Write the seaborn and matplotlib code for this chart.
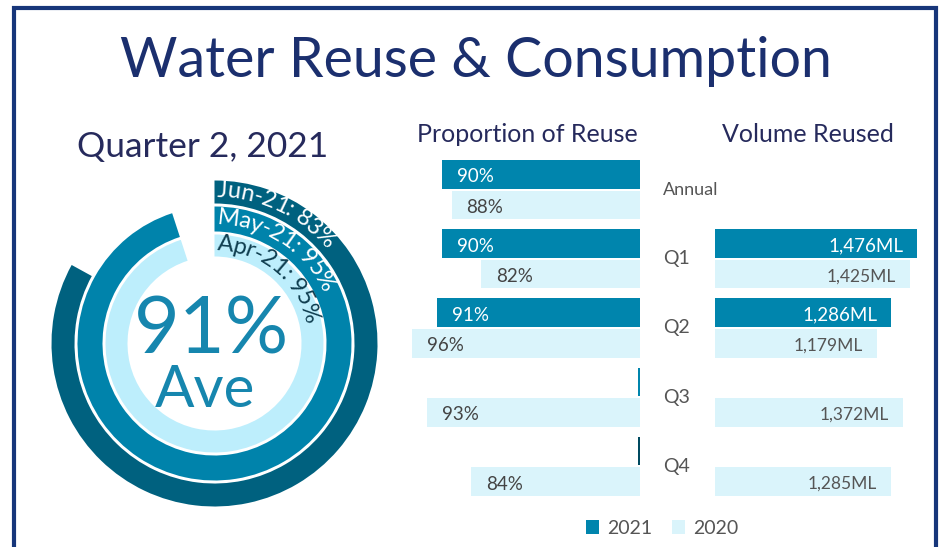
import numpy as np
import pandas as pd
import matplotlib
matplotlib.use("Agg")
import matplotlib.pyplot as plt
import matplotlib.transforms as mtransforms
from matplotlib.patches import Rectangle
from matplotlib.font_manager import FontProperties
import seaborn as sns

# ---------------- data ----------------
categories = ["Annual", "Q1", "Q2", "Q3", "Q4"]
years = ["2021", "2020"]
reuse_2021 = [90, 90, 91, 0, 0]          # Q3/Q4 2021 not yet reported
reuse_2020 = [88, 82, 96, 93, 84]
volume_2021 = [np.nan, 1476, 1286, np.nan, np.nan]
volume_2020 = [np.nan, 1425, 1179, 1372, 1285]
months = ["Apr-21", "May-21", "Jun-21"]
month_reuse = [95, 95, 83]
average_reuse = 91
quarter_title = "Quarter 2, 2021"

# ---------------- style ----------------
sns.set_style("white")
FONT = ["Lato", "DejaVu Sans"]
plt.rcParams["font.family"] = FONT

NAVY = "#1B2F6E"
DARK = "#262A5C"
GREY = "#555555"
C2021 = "#0085AD"
C2020 = "#DAF4FB"
palette = {"2021": C2021, "2020": C2020}
ring_colors = ["#BDEEFC", "#0083AB", "#00617F"]
ring_label_colors = ["#0E3D4F", "white", "white"]
ring_inner = [87, 112, 140]
ring_thick = [22, 25, 23]
stub_colors = {"Q3": "#0085AD", "Q4": "#004A60"}

W, H = 950, 547
fig = plt.figure(figsize=(W / 100, H / 100), dpi=100, facecolor="white")


def fx(px):
    return px / W


def fy(py):
    return 1 - py / H


# border
fig.add_artist(Rectangle((fx(14), -0.05), fx(935.5) - fx(14), fy(8) + 0.05,
                         transform=fig.transFigure, fill=False,
                         edgecolor="#17367A", linewidth=3))

# titles
fig.text(fx(476), fy(77), "Water Reuse & Consumption", ha="center",
         va="baseline", fontsize=40, color=NAVY)
fig.text(fx(203), fy(157), quarter_title, ha="center", va="baseline",
         fontsize=25.5, color=DARK)
fig.text(fx(527), fy(142), "Proportion of Reuse", ha="center",
         va="baseline", fontsize=18, color=DARK)
fig.text(fx(808), fy(142), "Volume Reused", ha="center", va="baseline",
         fontsize=18, color=DARK)

# ---------------- radial chart ----------------
R = 165
axr = fig.add_axes([fx(214.5 - R), fy(343.5 + R), 2 * R / W, 2 * R / H],
                   projection="polar")
axr.set_theta_zero_location("N")
axr.set_theta_direction(-1)
axr.set_rlim(0, R)
axr.axis("off")

renderer = fig.canvas.get_renderer()


def curved_text(ax, text, r, start_px, size, color):
    fp = FontProperties(family=FONT, size=size)
    widths = [0.0]
    for i in range(1, len(text) + 1):
        w, _, _ = renderer.get_text_width_height_descent(text[:i], fp, ismath=False)
        widths.append(w)
    for i, ch in enumerate(text):
        s = start_px + (widths[i] + widths[i + 1]) / 2
        th = s / r
        ax.text(th, r, ch, rotation=-np.degrees(th), rotation_mode="anchor",
                ha="center", va="center", fontsize=size, color=color,
                family=FONT, clip_on=False)


for i, (m, p) in enumerate(zip(months, month_reuse)):
    axr.bar(0, ring_thick[i], width=np.deg2rad(p * 3.6), bottom=ring_inner[i],
            align="edge", color=ring_colors[i], linewidth=0)
    curved_text(axr, f"{m}: {p}%", ring_inner[i] + ring_thick[i] / 2 + 1.5, 3,
                17, ring_label_colors[i])

fig.text(fx(212), fy(353), f"{average_reuse}%", ha="center", va="baseline",
         fontsize=57, color="#1686AE")
fig.text(fx(205), fy(407), "Ave", ha="center", va="baseline",
         fontsize=42, color="#1686AE")

# ---------------- proportion of reuse ----------------
df_reuse = pd.DataFrame({
    "category": categories * 2,
    "year": [years[0]] * len(categories) + [years[1]] * len(categories),
    "value": reuse_2021 + reuse_2020,
})
ax_p = fig.add_axes([fx(392), fy(501), 248 / W, 346 / H])
sns.barplot(data=df_reuse, y="category", x="value", hue="year",
            hue_order=years, order=categories, palette=palette, orient="h",
            width=0.88, gap=0.06, errorbar=None, saturation=1, linewidth=0,
            ax=ax_p)
handles, labels = ax_p.get_legend_handles_labels()
if ax_p.get_legend() is not None:
    ax_p.get_legend().remove()
ax_p.set_xlim(100, 50)
ax_p.set_ylim(len(categories) - 0.5, -0.5)
ax_p.axis("off")

for cont, yr in zip(ax_p.containers, years):
    for bar, v, cat in zip(cont.patches, cont.datavalues, categories):
        yc = bar.get_y() + bar.get_height() / 2
        if v == 0:
            bar.set_x(ax_p.get_xlim()[1])
            bar.set_width(0.45)
            bar.set_facecolor(stub_colors.get(cat, C2021))
            continue
        ax_p.annotate(f"{v:.0f}%", xy=(v, yc), xytext=(15, -1),
                      textcoords="offset pixels", ha="left",
                      va="center_baseline", fontsize=13.5,
                      color="white" if yr == "2021" else "#444444")

# category labels between the panels
tr = mtransforms.blended_transform_factory(fig.transFigure, ax_p.transData)
for i, cat in enumerate(categories):
    ax_p.text(fx(663), i, cat, transform=tr, ha="left", va="center",
              fontsize=13 if cat == "Annual" else 14, color=GREY,
              clip_on=False)

# ---------------- volume reused ----------------
df_vol = pd.DataFrame({
    "category": categories * 2,
    "year": [years[0]] * len(categories) + [years[1]] * len(categories),
    "value": volume_2021 + volume_2020,
}).dropna()
ax_v = fig.add_axes([fx(715), fy(501), 210 / W, 346 / H])
sns.barplot(data=df_vol, y="category", x="value", hue="year",
            hue_order=years, order=categories, palette=palette, orient="h",
            width=0.88, gap=0.06, errorbar=None, saturation=1, linewidth=0,
            ax=ax_v, legend=False)
ax_v.set_xlim(0, 210 / 0.137)
ax_v.set_ylim(len(categories) - 0.5, -0.5)
ax_v.axis("off")

for cont, yr in zip(ax_v.containers, years):
    for bar, v in zip(cont.patches, cont.datavalues):
        if not np.isfinite(v):
            continue
        yc = bar.get_y() + bar.get_height() / 2
        ax_v.annotate(f"{v:,.0f}ML", xy=(v, yc), xytext=(-14, -1),
                      textcoords="offset pixels", ha="right",
                      va="center_baseline",
                      fontsize=13.5 if yr == "2021" else 12.5,
                      color="white" if yr == "2021" else GREY)

# legend
fig.legend(handles, labels, loc="center", bbox_to_anchor=(fx(662), fy(528)),
           ncol=2, frameon=False, fontsize=14, handlelength=0.7,
           handleheight=0.7, handletextpad=0.4, columnspacing=1.0,
           labelcolor=GREY)

fig.savefig("out.png", dpi=100, facecolor="white")
